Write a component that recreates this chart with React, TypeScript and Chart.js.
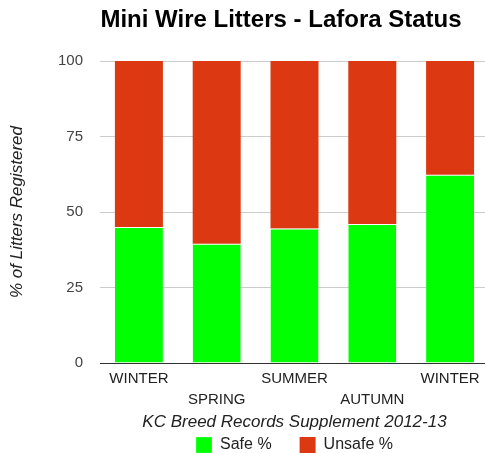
import React, { useEffect, useRef } from 'react';
import { Chart, registerables } from 'chart.js';

Chart.register(...registerables);

const categories = ['WINTER', 'SPRING', 'SUMMER', 'AUTUMN', 'WINTER'];
const safeValues = [45, 39.5, 44.5, 46, 62.3];
const unsafeValues = [55, 60.5, 55.5, 54, 37.7];
const yTickValues = [0, 25, 50, 75, 100];
const seriesNames = ['Safe %', 'Unsafe %'];
const titleText = 'Mini Wire Litters - Lafora Status';
const xTitleText = 'KC Breed Records Supplement 2012-13';
const yTitleText = '% of Litters Registered';

const FONT = 'Arial, "Liberation Sans", sans-serif';
const W = 489;
const H = 453;
const LEGEND_PAD = 28;
const LEGEND_BOX = 16;
const BOTTOM_PAD = -10;
const AREA_BOTTOM = 363;

export default function App() {
  const ref = useRef<HTMLCanvasElement | null>(null);

  useEffect(() => {
    if (!ref.current) return;
    const titlePlugin = {
      id: 'customTitle',
      afterDraw(chart: any) {
        const ctx = chart.ctx;
        ctx.save();
        ctx.font = `bold 24px ${FONT}`;
        ctx.fillStyle = '#000';
        ctx.textAlign = 'center';
        ctx.textBaseline = 'middle';
        ctx.fillText(titleText, 281, 20);
        ctx.restore();
      },
    };
    const legendHeight = LEGEND_BOX + LEGEND_PAD + 10;
    const xScaleHeight = H - BOTTOM_PAD - AREA_BOTTOM - legendHeight;
    const chart = new Chart(ref.current, {
      type: 'bar',
      data: {
        labels: categories,
        datasets: [
          {
            label: seriesNames[0],
            data: safeValues,
            backgroundColor: '#00ff00',
            borderColor: '#ffffff',
            borderWidth: { top: 1, left: 0, right: 0, bottom: 0 },
            borderSkipped: false,
          },
          {
            label: seriesNames[1],
            data: unsafeValues,
            backgroundColor: '#dc3912',
            borderWidth: 0,
          },
        ],
      },
      options: {
        responsive: false,
        animation: false,
        layout: { padding: { top: 61, left: 0, right: 0, bottom: BOTTOM_PAD } },
        datasets: {
          bar: { categoryPercentage: 0.617, barPercentage: 1 },
        },
        plugins: {
          title: { display: false },
          tooltip: { enabled: false },
          legend: {
            display: true,
            position: 'bottom',
            fullSize: false,
            labels: {
              boxWidth: LEGEND_BOX,
              boxHeight: LEGEND_BOX,
              padding: LEGEND_PAD,
              color: '#222',
              font: { family: FONT, size: 16 },
            },
          },
        },
        scales: {
          x: {
            stacked: true,
            afterFit: (scale: any) => {
              scale.height = xScaleHeight;
            },
            grid: { display: false, drawTicks: false },
            border: { display: true, color: '#333', width: 1 },
            ticks: {
              autoSkip: false,
              maxRotation: 0,
              minRotation: 0,
              padding: 5,
              color: '#222',
              font: { family: FONT, size: 15, lineHeight: 1.4 },
              callback: (_v: any, i: number) => (i % 2 === 1 ? ['', categories[i]] : categories[i]),
            },
            title: {
              display: true,
              text: xTitleText,
              color: '#222',
              font: { family: FONT, size: 17, style: 'italic' },
              padding: { top: 0, bottom: -23 },
            },
          },
          y: {
            stacked: true,
            min: 0,
            max: 100,
            afterFit: (scale: any) => {
              scale.width = 100;
            },
            afterBuildTicks: (scale: any) => {
              scale.ticks = yTickValues.map((v) => ({ value: v }));
            },
            grid: { color: '#cccccc', drawTicks: false, lineWidth: 1 },
            border: { display: false },
            ticks: {
              padding: 17,
              color: '#444',
              font: { family: FONT, size: 15 },
            },
            title: {
              display: true,
              text: yTitleText,
              color: '#222',
              font: { family: FONT, size: 17, style: 'italic' },
              padding: { top: 7, bottom: 0 },
            },
          },
        },
      },
      plugins: [titlePlugin],
    });
    return () => chart.destroy();
  }, []);

  return (
    <div style={{ position: 'fixed', left: 0, top: 0, width: 485, height: H, overflow: 'hidden', background: '#fff' }}>
      <canvas ref={ref} width={W} height={H} style={{ width: W, height: H, display: 'block' }} />
    </div>
  );
}
